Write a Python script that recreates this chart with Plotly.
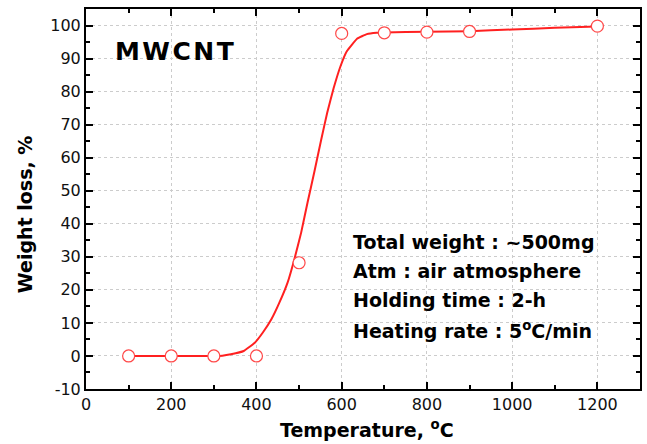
import plotly.graph_objects as go

# measured data points (open circles)
temp_pts = [100, 200, 300, 400, 500, 600, 700, 800, 900, 1200]
loss_pts = [0.0, 0.0, 0.0, 0.0, 28.2, 97.6, 97.8, 98.0, 98.2, 99.8]

# fitted curve
temp_fit = [100, 200, 300, 320, 340, 370, 396, 415, 435, 454, 473, 489, 505, 520,
            536, 552, 566, 581, 597, 612, 636, 659, 682, 700, 800, 900, 1000, 1100, 1200]
loss_fit = [0.0, 0.0, 0.0, 0.1, 0.5, 1.5, 4.0, 7.1, 11.1, 16.2, 22.2, 29.3, 37.4, 46.5,
            55.8, 65.5, 73.6, 81.0, 87.6, 92.2, 96.0, 97.4, 97.8, 97.9, 98.1, 98.3, 98.8, 99.3, 99.7]

x_ticks = [0, 200, 400, 600, 800, 1000, 1200]
y_ticks = list(range(-10, 101, 10))
y_ticktext = [str(v) for v in y_ticks]  # plain hyphen for -10

info_lines = ["Total weight : ~500mg", "Atm : air atmosphere",
              "Holding time : 2-h", "Heating rate : 5<sup>o</sup>C/min"]
info_y = [34.5, 25.7, 16.9, 7.8]

RED = "#ff2020"
FONT = "DejaVu Sans"

fig = go.Figure()
fig.add_trace(go.Scatter(x=temp_fit, y=loss_fit, mode="lines",
                         line=dict(color=RED, width=2, shape="spline", smoothing=0.3),
                         showlegend=False, hoverinfo="skip"))
fig.add_trace(go.Scatter(x=temp_pts, y=loss_pts, mode="markers",
                         marker=dict(symbol="circle", size=12, color="white",
                                     line=dict(color="#ff4848", width=1.2)),
                         showlegend=False))

axis_common = dict(showline=True, linecolor="black", linewidth=2, mirror="allticks",
                   ticks="inside", ticklen=7, tickwidth=2, tickcolor="black",
                   showgrid=True, gridcolor="#cccccc", griddash="3px,3px", gridwidth=1,
                   zeroline=False, tickfont=dict(family=FONT, size=16, color="#111"))

fig.update_xaxes(range=[0, 1300], tickvals=x_ticks,
                 minor=dict(ticks="inside", ticklen=4, tickwidth=2, tickcolor="black",
                            dtick=100, tick0=0, showgrid=False),
                 **axis_common)
fig.update_yaxes(range=[-10, 105], tickvals=y_ticks, ticktext=y_ticktext,
                 minor=dict(ticks="inside", ticklen=4, tickwidth=2, tickcolor="black",
                            dtick=5, tick0=0, showgrid=False),
                 **axis_common)

annotations = [
    dict(text="M\u200aW\u200aC\u200aN\u200aT", x=63, y=92.1, xref="x", yref="y",
         xanchor="left", yanchor="middle", showarrow=False,
         font=dict(family=FONT, size=25, color="black", weight="bold")),
    dict(text="Temperature, <sup>o</sup>C", x=(368 - 86) / 556, y=(389 - 429) / 380,
         xref="paper", yref="paper", xanchor="center", yanchor="middle", showarrow=False,
         font=dict(family=FONT, size=19, color="black", weight="bold")),
    dict(text="Weight loss, %", x=(25 - 86) / 556, y=(389 - 214) / 380, textangle=-90,
         xref="paper", yref="paper", xanchor="center", yanchor="middle", showarrow=False,
         font=dict(family=FONT, size=19, color="black", weight="bold")),
]
for t, yy in zip(info_lines, info_y):
    annotations.append(dict(text=t, x=622, y=yy, xref="x", yref="y", xanchor="left",
                            yanchor="middle", showarrow=False,
                            font=dict(family=FONT, size=19, color="black", weight="bold")))

fig.update_layout(width=647, height=444, margin=dict(l=86, r=5, t=9, b=55),
                  plot_bgcolor="white", paper_bgcolor="white",
                  annotations=annotations)

fig.write_html("out.html")
